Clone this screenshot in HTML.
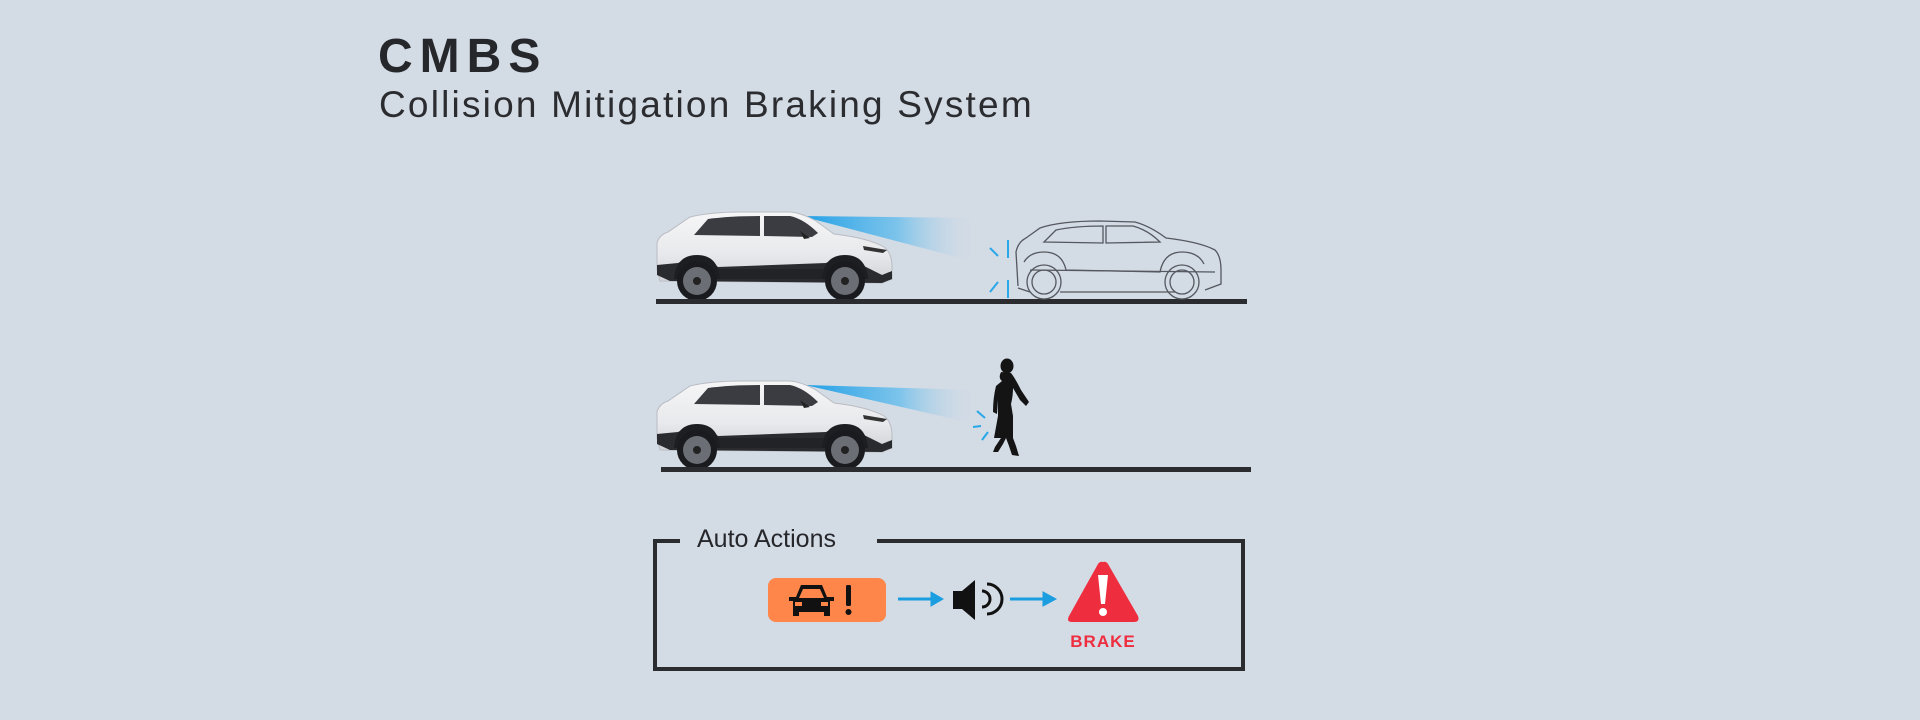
<!DOCTYPE html>
<html><head><meta charset="utf-8"><style>
html,body{margin:0;padding:0;background:#d3dbe5;}
body{width:1920px;height:720px;overflow:hidden;position:relative;font-family:"Liberation Sans",sans-serif;}
.t1{position:absolute;left:378px;top:29px;font-size:48px;font-weight:bold;color:#26272b;letter-spacing:7px;}
.t2{position:absolute;left:379px;top:84px;font-size:37px;color:#2b2c30;letter-spacing:2.2px;}
</style></head><body>
<div class="t1">CMBS</div>
<div class="t2">Collision Mitigation Braking System</div>
<svg width="1920" height="720" style="position:absolute;left:0;top:0">
<defs>
<linearGradient id="beam" x1="0" x2="1" y1="0" y2="0">
<stop offset="0" stop-color="#1f9fe6"/><stop offset="0.55" stop-color="#6cbfec" stop-opacity="0.85"/><stop offset="1" stop-color="#d3dbe5" stop-opacity="0"/>
</linearGradient>
<linearGradient id="bodyg" x1="0" x2="0" y1="0" y2="1">
<stop offset="0" stop-color="#f6f6f7"/><stop offset="0.6" stop-color="#e8e9ec"/><stop offset="1" stop-color="#cfd1d6"/>
</linearGradient>
<g id="car">
<path d="M7,64 L7,38 Q9,30 18,27 L40,12 Q60,7 92,7 L140,7 Q152,8 166,16 L184,29 Q218,33 234,42 Q242,48 242,62 L242,74 L232,78 L10,76 Z" fill="url(#bodyg)" stroke="#b9bcc3" stroke-width="1"/>
<path d="M44,30 L58,14 Q80,11 110,11 L110,31 Z" fill="#3a3c42"/>
<path d="M114,11 L140,11 Q154,14 168,28 L162,32 L114,31 Z" fill="#3a3c42"/>
<path d="M7,60 L7,70 L20,76 L232,78 L242,74 L242,66 L232,70 L212,60 Q195,46 176,58 L68,62 Q50,46 28,58 Z" fill="#2a2b2f"/>
<rect x="66" y="64" width="112" height="10" fill="#222327"/>
<path d="M24,74 Q26,50 47,50 Q68,50 70,74 Z" fill="#1d1e21"/>
<path d="M172,74 Q174,50 195,50 Q216,50 218,74 Z" fill="#1d1e21"/>
<circle cx="47" cy="76" r="20" fill="#1a1b1e"/><circle cx="47" cy="76" r="14" fill="#6b6e74"/><circle cx="47" cy="76" r="4" fill="#222"/>
<circle cx="195" cy="76" r="20" fill="#1a1b1e"/><circle cx="195" cy="76" r="14" fill="#6b6e74"/><circle cx="195" cy="76" r="4" fill="#222"/>
<path d="M213,41 L237,45 L233,48 L214,45 Z" fill="#333"/>
<path d="M150,26 L160,33 L154,34 Z" fill="#222"/>
</g>
</defs>
<polygon points="801,216 976,218 976,262" fill="url(#beam)"/>
<use href="#car" x="650" y="205"/>
<rect x="656" y="299" width="591" height="5" fill="#2b2c30"/>
<g fill="none" stroke="#55585e" stroke-width="1.3">
<path d="M1018,286 L1016,252 Q1018,242 1026,238 L1040,228 Q1060,221 1100,221 L1135,222 Q1150,226 1166,238 Q1200,242 1215,250 Q1221,256 1221,270 L1221,284 L1205,290 M1175,292 L1060,292 M1030,292 L1018,288"/>
<path d="M1044,242 L1056,230 Q1075,226 1103,226 L1103,243 Z M1106,226 L1133,226 Q1148,230 1160,242 L1106,243 Z"/>
<circle cx="1044" cy="282" r="17"/><circle cx="1044" cy="282" r="12"/>
<circle cx="1182" cy="282" r="17"/><circle cx="1182" cy="282" r="12"/>
<path d="M1024,262 Q1030,252 1044,252 Q1062,252 1066,270 L1160,272 Q1164,252 1182,252 Q1198,252 1204,264"/>
<path d="M1030,270 L1215,272"/>
</g>
<g stroke="#2aa7e8" stroke-width="2">
<line x1="990" y1="248" x2="998" y2="256"/><line x1="1008" y1="240" x2="1008" y2="258"/>
<line x1="990" y1="292" x2="998" y2="282"/><line x1="1008" y1="280" x2="1008" y2="298"/>
</g>
<polygon points="805,385 976,390 976,424" fill="url(#beam)"/>
<use href="#car" x="650" y="374"/>
<rect x="661" y="467" width="590" height="5" fill="#2b2c30"/>
<g stroke="#2aa7e8" stroke-width="2">
<line x1="977" y1="411" x2="985" y2="418"/><line x1="973" y1="427" x2="981" y2="426"/><line x1="982" y1="440" x2="988" y2="432"/>
</g>
<g fill="#141414">
<ellipse cx="1007" cy="366" rx="6.5" ry="7.5"/>
<path d="M1001,372 Q998,378 1002,381 L996,386 Q993,398 993,412 L997,414 L998,400 L998,416 L994,438 L1001,438 L995,447 L993,452 L998,452 L1003,444 L1006,438 L1009,446 L1012,455 L1019,456 L1016,446 L1013,438 L1013,416 L1011,404 Q1013,396 1013,388 L1020,400 L1026,406 L1029,402 L1021,390 Q1015,378 1011,373 Z"/>
</g>
<path d="M680,541 L655,541 L655,669 L1243,669 L1243,541 L877,541" fill="none" stroke="#2b2c30" stroke-width="4"/>
<text x="697" y="547" font-size="25" fill="#26272b" font-family="Liberation Sans, sans-serif">Auto Actions</text>
<rect x="768" y="578" width="118" height="44" rx="8" fill="#ff864a"/>
<path d="M801,585 L822,585 L827,597 L834,597 L834,601 L830,601 L830,616 L824,616 L824,612 L799,612 L799,616 L793,616 L793,601 L789,601 L789,597 L796,597 Z" fill="#111"/>
<path d="M803,589 L820,589 L824,598 L799,598 Z" fill="#ff864a"/>
<rect x="795" y="602" width="7" height="4" fill="#ff864a"/><rect x="821" y="602" width="7" height="4" fill="#ff864a"/>
<rect x="846" y="585" width="5" height="21" rx="1.5" fill="#111"/><circle cx="848.5" cy="612" r="3" fill="#111"/>
<g stroke="#1b9ee0" stroke-width="3" fill="#1b9ee0">
<line x1="898" y1="599" x2="932" y2="599"/><polygon points="931,592 943,599 931,606" stroke-width="1"/>
<line x1="1010" y1="599" x2="1044" y2="599"/><polygon points="1043,592 1056,599 1043,606" stroke-width="1"/>
</g>
<path d="M953,591 L962,591 L975,580 L975,620 L962,609 L953,609 Z" fill="#111"/>
<path d="M982,591 A8,8 0 0 1 982,607" fill="none" stroke="#111" stroke-width="3"/>
<path d="M987,584 A15,15 0 0 1 987,614" fill="none" stroke="#111" stroke-width="3"/>
<path d="M1103,562 Q1106,561 1108,564 L1138,616 Q1140,622 1134,622 L1072,622 Q1066,622 1069,616 L1098,564 Q1100,561 1103,562 Z" fill="#ee2d3f"/>
<path d="M1098,575 L1108,575 L1105,604 L1101,604 Z" fill="#fff"/><circle cx="1103" cy="612" r="4" fill="#fff"/>
<text x="1103" y="647" font-size="17" font-weight="bold" fill="#ee2d3f" text-anchor="middle" letter-spacing="1" font-family="Liberation Sans, sans-serif">BRAKE</text>
</svg>
</body></html>
